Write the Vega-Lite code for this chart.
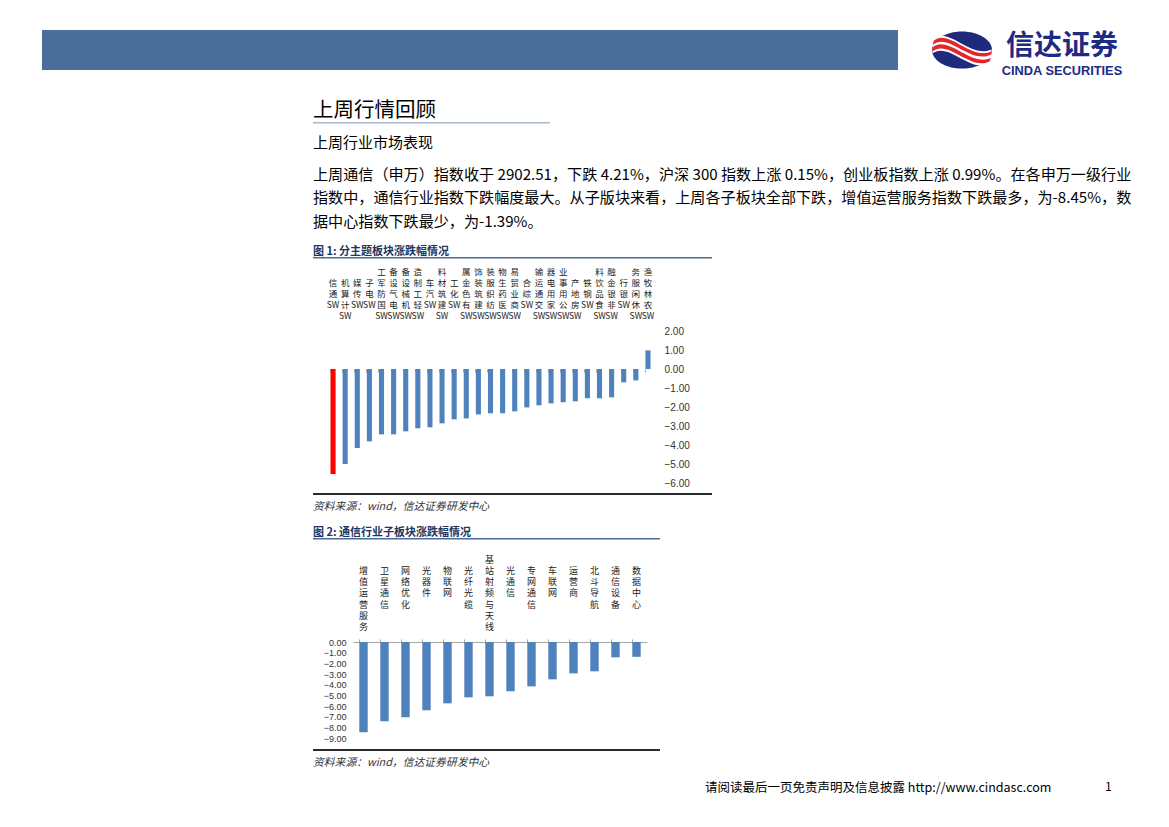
{
  "$schema": "https://vega.github.io/schema/vega-lite/v6.json",
  "background": "white",
  "padding": {"left": 42, "top": 30, "right": 0, "bottom": 0},
  "spacing": 0,
  "config": {
    "view": {"stroke": null},
    "font": "Noto Sans CJK SC",
    "concat": {"spacing": 0},
    "title": {"anchor": "start", "font": "Noto Sans CJK SC", "fontWeight": "normal", "color": "#000000"},
    "axis": {"grid": false}
  },
  "vconcat": [
    {
      "hconcat": [
        {"width": 856, "height": 40, "view": {"fill": "#4a6d9a", "stroke": null}, "data": {"values": [{"v": 0}]}, "mark": {"type": "text", "text": "", "fontSize": 0}, "encoding": {}},
        {"width": 34, "height": 40, "data": {"values": [{"v": 0}]}, "mark": {"type": "text", "text": "", "fontSize": 0}, "encoding": {}},
        {
          "width": 60, "height": 40,
          "data": {"values": [{"v": 0}]},
          "layer": [
            {"mark": {"type": "point", "shape": "M-1,0 A1,0.62 0 1,1 1,0 A1,0.62 0 1,1 -1,0 Z", "filled": true, "size": 3600, "color": "#1f2a7c", "opacity": 1, "strokeWidth": 0}, "encoding": {}},
            {"mark": {"type": "point", "shape": "M-0.97,-0.36 C-0.45,-0.82 0.25,0.3 0.99,-0.02 L0.93,0.45 C0.25,0.78 -0.45,-0.3 -0.99,0.12 Z", "filled": true, "size": 3600, "color": "#ffffff", "opacity": 1, "strokeWidth": 0}, "encoding": {}},
            {"mark": {"type": "point", "shape": "M-0.95,-0.3 C-0.45,-0.75 0.25,0.35 0.98,0.05 L0.96,0.16 C0.25,0.48 -0.45,-0.6 -0.97,-0.17 Z", "filled": true, "size": 3600, "color": "#e3262b", "opacity": 1, "strokeWidth": 0}, "encoding": {}},
            {"mark": {"type": "point", "shape": "M-0.99,-0.08 C-0.45,-0.53 0.25,0.57 0.96,0.27 L0.92,0.38 C0.25,0.7 -0.45,-0.38 -0.99,0.05 Z", "filled": true, "size": 3600, "color": "#e3262b", "opacity": 1, "strokeWidth": 0}, "encoding": {}}
          ]
        },
        {
          "vconcat": [
            {"width": 140, "height": 34, "data": {"values": [{"v": 0}]}, "mark": {"type": "text", "text": "信达证券", "fontSize": 28, "fontWeight": "bold", "color": "#1d2b84", "font": "Noto Sans CJK SC"}, "encoding": {}},
            {"width": 140, "height": 5, "data": {"values": [{"v": 0}]}, "mark": {"type": "text", "text": "CINDA SECURITIES", "fontSize": 12.8, "fontWeight": "bold", "color": "#1d2b84", "font": "Liberation Sans", "baseline": "alphabetic"}, "encoding": {}}
          ]
        }
      ]
    },
    {
      "hconcat": [
        {"width": 271, "height": 1, "data": {"values": [{"v": 0}]}, "mark": {"type": "text", "text": "", "fontSize": 0}, "encoding": {}},
        {
          "vconcat": [
            {"width": 1, "height": 22, "data": {"values": [{"v": 0}]}, "mark": {"type": "text", "text": "", "fontSize": 0}, "encoding": {}},
            {"width": 237, "height": 1.5, "view": {"fill": "#a9bad0", "stroke": null}, "title": {"text": "上周行情回顾", "fontSize": 20.5, "offset": 1}, "data": {"values": [{"v": 0}]}, "mark": {"type": "text", "text": "", "fontSize": 0}, "encoding": {}},
            {"width": 1, "height": 11, "data": {"values": [{"v": 0}]}, "mark": {"type": "text", "text": "", "fontSize": 0}, "encoding": {}},
            {
              "width": 823, "height": 1,
              "title": {
                "text": "上周行业市场表现", "fontSize": 15, "offset": 14,
                "subtitle": [
                  "上周通信（申万）指数收于 2902.51，下跌 4.21%，沪深 300 指数上涨 0.15%，创业板指数上涨 0.99%。在各申万一级行业",
                  "指数中，通信行业指数下跌幅度最大。从子版块来看，上周各子板块全部下跌，增值运营服务指数下跌最多，为-8.45%，数",
                  "据中心指数下跌最少，为-1.39%。"
                ],
                "subtitleFontSize": 15.1, "subtitleLineHeight": 23.5, "subtitlePadding": 17, "subtitleColor": "#000000", "subtitleFont": "Noto Sans CJK SC"
              },
              "data": {"values": [{"v": 0}]}, "mark": {"type": "text", "text": "", "fontSize": 0}, "encoding": {}
            },
            {"width": 399, "height": 1.5, "view": {"fill": "#4b6a94", "stroke": null}, "title": {"text": "图 1:  分主题板块涨跌幅情况", "fontSize": 11, "fontWeight": "bold", "color": "#1b365f", "offset": 0.5}, "data": {"values": [{"v": 0}]}, "mark": {"type": "text", "text": "", "fontSize": 0}, "encoding": {}},
            {"width": 1, "height": 8, "data": {"values": [{"v": 0}]}, "mark": {"type": "text", "text": "", "fontSize": 0}, "encoding": {}},
            {
              "hconcat": [
                {"width": 13, "height": 1, "data": {"values": [{"v": 0}]}, "mark": {"type": "text", "text": "", "fontSize": 0}, "encoding": {}},
                {
                  "width": 327, "height": 152,
                  "data": {"values": [
                    {"板块": "SW通信", "涨跌幅": -5.53},
                    {"板块": "SW计算机", "涨跌幅": -5.00},
                    {"板块": "SW传媒", "涨跌幅": -4.16},
                    {"板块": "SW电子", "涨跌幅": -3.81},
                    {"板块": "SW国防军工", "涨跌幅": -3.44},
                    {"板块": "SW电气设备", "涨跌幅": -3.44},
                    {"板块": "SW机械设备", "涨跌幅": -3.28},
                    {"板块": "SW轻工制造", "涨跌幅": -3.12},
                    {"板块": "SW汽车", "涨跌幅": -3.07},
                    {"板块": "SW建筑材料", "涨跌幅": -2.86},
                    {"板块": "SW化工", "涨跌幅": -2.65},
                    {"板块": "SW有色金属", "涨跌幅": -2.60},
                    {"板块": "SW建筑装饰", "涨跌幅": -2.39},
                    {"板块": "SW纺织服装", "涨跌幅": -2.33},
                    {"板块": "SW医药生物", "涨跌幅": -2.33},
                    {"板块": "SW商业贸易", "涨跌幅": -2.23},
                    {"板块": "SW综合", "涨跌幅": -2.02},
                    {"板块": "SW交通运输", "涨跌幅": -1.91},
                    {"板块": "SW家用电器", "涨跌幅": -1.81},
                    {"板块": "SW公用事业", "涨跌幅": -1.75},
                    {"板块": "SW房地产", "涨跌幅": -1.70},
                    {"板块": "SW钢铁", "涨跌幅": -1.54},
                    {"板块": "SW食品饮料", "涨跌幅": -1.54},
                    {"板块": "SW非银金融", "涨跌幅": -1.49},
                    {"板块": "SW银行", "涨跌幅": -0.70},
                    {"板块": "SW休闲服务", "涨跌幅": -0.60},
                    {"板块": "SW农林牧渔", "涨跌幅": 0.98}
                  ]},
                  "encoding": {
                    "y": {"field": "涨跌幅", "type": "quantitative", "scale": {"domain": [-6, 2], "nice": false},
                      "axis": {"orient": "right", "values": [-6, -5, -4, -3, -2, -1, 0, 1, 2], "format": ".2f", "domain": false, "ticks": false, "labelPadding": 10, "labelFont": "Liberation Sans", "labelFontSize": 10, "labelColor": "#333333", "title": null, "grid": false}}
                  },
                  "layer": [
                    {
                      "mark": {"type": "bar"},
                      "encoding": {
                        "x": {"field": "板块", "type": "nominal", "sort": null, "scale": {"paddingInner": 0.58, "paddingOuter": 0.29},
                          "axis": {"orient": "top", "domain": false, "ticks": false, "labelAngle": 0, "labelAlign": "center", "labelBaseline": "bottom", "labelPadding": 55, "labelFontSize": 8.5, "labelLineHeight": 11, "labelFont": "Noto Sans CJK SC", "labelColor": "#222222", "labelOverlap": false, "labelLimit": 0, "title": null,
                            "labelExpr": "split(slice('||||', 0, 6 - length(datum.value)) + join(reverse(split(slice(datum.value, 2), '')), '|') + '|SW', '|')"}},
                        "color": {"condition": {"test": "datum['板块'] === 'SW通信'", "value": "#ff0000"}, "value": "#4f81bd"}
                      }
                    },
                    {
                      "mark": {"type": "text", "text": "", "fontSize": 0},
                      "encoding": {
                        "x": {"field": "板块", "type": "nominal", "sort": null, "scale": {"paddingInner": 0.58, "paddingOuter": 0.29},
                          "axis": {"orient": "bottom", "offset": -114, "domain": false, "ticks": true, "tickSize": 3, "tickColor": "#a6a6a6", "labels": false, "bandPosition": 0, "title": null, "minExtent": 0}}
                      }
                    }
                  ],
                  "resolve": {"axis": {"x": "independent"}}
                }
              ]
            },
            {"width": 1, "height": 5, "data": {"values": [{"v": 0}]}, "mark": {"type": "text", "text": "", "fontSize": 0}, "encoding": {}},
            {"width": 399, "height": 2, "view": {"fill": "#2b2b2b", "stroke": null}, "title": {"text": "资料来源：wind，信达证券研发中心", "orient": "bottom", "fontSize": 10.8, "fontStyle": "italic", "color": "#333333", "offset": 6}, "data": {"values": [{"v": 0}]}, "mark": {"type": "text", "text": "", "fontSize": 0}, "encoding": {}},
            {"width": 1, "height": 14, "data": {"values": [{"v": 0}]}, "mark": {"type": "text", "text": "", "fontSize": 0}, "encoding": {}},
            {"width": 347, "height": 1.5, "view": {"fill": "#4b6a94", "stroke": null}, "title": {"text": "图 2:  通信行业子板块涨跌幅情况", "fontSize": 11, "fontWeight": "bold", "color": "#1b365f", "offset": 0.5}, "data": {"values": [{"v": 0}]}, "mark": {"type": "text", "text": "", "fontSize": 0}, "encoding": {}},
            {"width": 1, "height": 15, "data": {"values": [{"v": 0}]}, "mark": {"type": "text", "text": "", "fontSize": 0}, "encoding": {}},
            {
              "hconcat": [
                {"width": 10, "height": 1, "data": {"values": [{"v": 0}]}, "mark": {"type": "text", "text": "", "fontSize": 0}, "encoding": {}},
                {
                  "width": 294, "height": 96,
                  "data": {"values": [
                    {"板块": "增值运营服务", "涨跌幅": -8.45},
                    {"板块": "卫星通信", "涨跌幅": -7.44},
                    {"板块": "网络优化", "涨跌幅": -7.06},
                    {"板块": "光器件", "涨跌幅": -6.40},
                    {"板块": "物联网", "涨跌幅": -5.75},
                    {"板块": "光纤光缆", "涨跌幅": -5.19},
                    {"板块": "基站射频与天线", "涨跌幅": -5.09},
                    {"板块": "光通信", "涨跌幅": -4.62},
                    {"板块": "专网通信", "涨跌幅": -4.16},
                    {"板块": "车联网", "涨跌幅": -3.50},
                    {"板块": "运营商", "涨跌幅": -2.94},
                    {"板块": "北斗导航", "涨跌幅": -2.75},
                    {"板块": "通信设备", "涨跌幅": -1.44},
                    {"板块": "数据中心", "涨跌幅": -1.39}
                  ]},
                  "mark": {"type": "bar", "color": "#4f81bd"},
                  "encoding": {
                    "x": {"field": "板块", "type": "nominal", "sort": null, "scale": {"paddingInner": 0.6, "paddingOuter": 0.3},
                      "axis": {"orient": "top", "domain": true, "domainColor": "#a6a6a6", "ticks": true, "tickColor": "#a6a6a6", "tickSize": 3, "bandPosition": 0, "labelAngle": 0, "labelAlign": "center", "labelBaseline": "bottom", "labelPadding": 75, "labelFontSize": 9, "labelLineHeight": 11.3, "labelFont": "Noto Sans CJK SC", "labelColor": "#222222", "labelOverlap": false, "labelLimit": 0, "title": null,
                        "labelExpr": "split(slice('||||||', 0, 7 - length(datum.value)) + join(split(datum.value, ''), '|'), '|')"}},
                    "y": {"field": "涨跌幅", "type": "quantitative", "scale": {"domain": [-9, 0], "nice": false},
                      "axis": {"orient": "left", "values": [-9, -8, -7, -6, -5, -4, -3, -2, -1, 0], "format": ".2f", "domain": false, "ticks": false, "labelPadding": 7, "labelFont": "Liberation Sans", "labelFontSize": 9, "labelColor": "#333333", "title": null, "grid": false}}
                  }
                }
              ]
            },
            {"width": 1, "height": 6, "data": {"values": [{"v": 0}]}, "mark": {"type": "text", "text": "", "fontSize": 0}, "encoding": {}},
            {"width": 347, "height": 2, "view": {"fill": "#2b2b2b", "stroke": null}, "title": {"text": "资料来源：wind，信达证券研发中心", "orient": "bottom", "fontSize": 10.8, "fontStyle": "italic", "color": "#333333", "offset": 6}, "data": {"values": [{"v": 0}]}, "mark": {"type": "text", "text": "", "fontSize": 0}, "encoding": {}},
            {"width": 1, "height": 13, "data": {"values": [{"v": 0}]}, "mark": {"type": "text", "text": "", "fontSize": 0}, "encoding": {}},
            {
              "hconcat": [
                {"width": 392, "height": 1, "data": {"values": [{"v": 0}]}, "mark": {"type": "text", "text": "", "fontSize": 0}, "encoding": {}},
                {"width": 400, "height": 1, "title": {"text": "请阅读最后一页免责声明及信息披露 http://www.cindasc.com", "fontSize": 12.5, "offset": 2}, "data": {"values": [{"v": 0}]}, "mark": {"type": "text", "text": "", "fontSize": 0}, "encoding": {}},
                {"width": 20, "height": 1, "title": {"text": "1", "fontSize": 12, "offset": 2}, "data": {"values": [{"v": 0}]}, "mark": {"type": "text", "text": "", "fontSize": 0}, "encoding": {}}
              ]
            }
          ]
        }
      ]
    }
  ]
}
